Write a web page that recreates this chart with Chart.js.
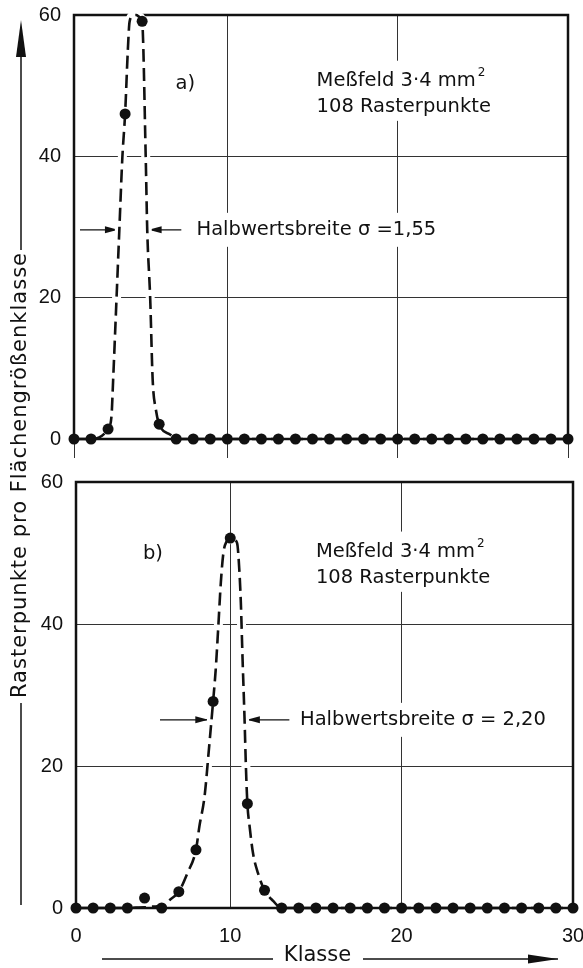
<!DOCTYPE html>
<html><head><meta charset="utf-8">
<script src="https://cdn.jsdelivr.net/npm/chart.js@4.4.1/dist/chart.umd.min.js"></script>
<style>
html,body{margin:0;padding:0;background:#fff;}
#wrap{position:relative;width:583px;height:968px;background:#fff;}
canvas{position:absolute;left:0;top:0;}
</style></head><body>
<div id="wrap"><canvas id="ca" width="583" height="968"></canvas><canvas id="cb" width="583" height="968"></canvas></div>
<script>
// ---- data ----
const classes = [1,2,3,4,5,6,7,8,9,10,11,12,13,14,15,16,17,18,19,20,21,22,23,24,25,26,27,28,29,30];
const pointsA = [0,0,1.4,46,59.1,2.1,0,0,0,0,0,0,0,0,0,0,0,0,0,0,0,0,0,0,0,0,0,0,0,0];
const pointsB = [0,0,0,0,1.4,0,2.3,8.2,29.1,52.1,14.7,2.5,0,0,0,0,0,0,0,0,0,0,0,0,0,0,0,0,0,0];
const curveAx = [1,2,3,3.2,3.3,3.5,3.66,3.84,4,4.16,4.26,4.45,4.65,4.85,5,5.21,5.3,5.47,5.62,5.81,6,6.66,7,30];
const curveAy = [0,0,1.4,3.2,8.5,20.1,29.5,39.9,46,55,59,59.9,60,59.7,59.1,39.9,29.5,20.1,8.3,4.1,2.1,0.6,0,0];
const curveBx = [1,4,4.5,5,5.5,6,6.5,7,7.5,8,8.2,8.5,8.75,9,9.15,9.3,9.45,9.6,9.8,10,10.2,10.4,10.53,10.62,10.72,10.83,10.92,11,11.13,11.33,11.62,12,12.5,13,30];
const curveBy = [0,0,0.05,0.1,0.2,0.35,1.2,2.3,4.9,8.2,11.5,15.7,22.2,29.1,33.5,39.5,45.8,50,51.7,52.1,51.9,51.4,47.6,42.9,35,27,19.5,14.7,11.5,7.7,4.9,2.5,1.0,0,0];
const yTicks = [0,20,40,60];
const xTickValues = [1,10,20,30];
const xTickLabels = ['0','10','20','30'];
const yTitle = 'Rasterpunkte pro Flächengrößenklasse';
const xTitle = 'Klasse';
const textA = {panel:'a)', field:'Meßfeld 3·4 mm', sup:'2', pts:'108 Rasterpunkte', fwhm:'Halbwertsbreite σ =1,55'};
const textB = {panel:'b)', field:'Meßfeld 3·4 mm', sup:'2', pts:'108 Rasterpunkte', fwhm:'Halbwertsbreite σ = 2,20'};

// ---- drawing helpers ----
const INK = '#111';
const TXT = '19.5px "DejaVu Sans"';
function hArrow(ctx, x1, y, x2, len, hw) {
  ctx.beginPath(); ctx.moveTo(x1, y); ctx.lineTo(x2, y); ctx.stroke();
  const d = Math.sign(x2 - x1);
  ctx.beginPath(); ctx.moveTo(x2, y); ctx.lineTo(x2 - d*len, y - hw); ctx.lineTo(x2 - d*len, y + hw); ctx.closePath(); ctx.fill();
}
function annotPlugin(id, t, pos) {
  return {
    id: id,
    beforeDatasetsDraw(chart) {
      const {ctx, chartArea: a, scales: {x, y}} = chart;
      ctx.save();
      ctx.font = TXT; ctx.textBaseline = 'middle'; ctx.textAlign = 'left';
      const fx = x.getPixelForValue(pos.fieldX);
      const fy1 = y.getPixelForValue(pos.fieldY);
      const fy2 = y.getPixelForValue(pos.ptsY);
      const w1 = ctx.measureText(t.field).width;
      const w2 = ctx.measureText(t.pts).width;
      const bw = Math.max(w1 + 10, w2);
      ctx.fillStyle = '#fff';
      ctx.fillRect(fx - 8, fy1 - 20, bw + 16, fy2 - fy1 + 34);
      ctx.fillStyle = INK;
      ctx.fillText(t.field, fx, fy1);
      ctx.font = '12px "DejaVu Sans"';
      ctx.fillText(t.sup, fx + w1 + 2, fy1 - 8);
      ctx.font = TXT;
      ctx.fillText(t.pts, fx, fy2);
      ctx.textAlign = 'center';
      ctx.fillText(t.panel, x.getPixelForValue(pos.panelX), y.getPixelForValue(pos.panelY));
      ctx.textAlign = 'left';
      const hy = y.getPixelForValue(pos.halfY);
      const hx = x.getPixelForValue(pos.textX);
      const hw = ctx.measureText(t.fwhm).width;
      ctx.fillStyle = '#fff';
      ctx.fillRect(hx - 8, hy - 17, hw + 16, 34);
      ctx.fillStyle = INK;
      ctx.fillText(t.fwhm, hx, hy);
      ctx.strokeStyle = INK; ctx.lineWidth = 1.3;
      hArrow(ctx, x.getPixelForValue(pos.lTail), hy, x.getPixelForValue(pos.lTip), 13, 3.5);
      hArrow(ctx, x.getPixelForValue(pos.rTail), hy, x.getPixelForValue(pos.rTip), 13, 3.5);
      ctx.lineWidth = 2.5; ctx.strokeStyle = INK;
      ctx.strokeRect(a.left, a.top, a.right - a.left, a.bottom - a.top);
      ctx.restore();
    }
  };
}
const yTitlePlugin = {
  id: 'ytitle',
  afterDraw(chart) {
    const ctx = chart.ctx;
    ctx.save();
    ctx.fillStyle = INK;
    ctx.translate(21, 475); ctx.rotate(-Math.PI/2);
    ctx.font = '21px "DejaVu Sans"';
    ctx.letterSpacing = '1px';
    ctx.textAlign = 'center'; ctx.textBaseline = 'middle';
    ctx.fillText(yTitle, 0, 0);
    ctx.restore();
    ctx.save();
    ctx.fillStyle = INK; ctx.strokeStyle = INK; ctx.lineWidth = 1.5;
    ctx.beginPath(); ctx.moveTo(21, 250); ctx.lineTo(21, 50); ctx.stroke();
    ctx.beginPath(); ctx.moveTo(21, 20); ctx.lineTo(16, 57); ctx.lineTo(26, 57); ctx.closePath(); ctx.fill();
    ctx.beginPath(); ctx.moveTo(21, 703); ctx.lineTo(21, 905); ctx.stroke();
    ctx.restore();
  }
};
const xTitlePlugin = {
  id: 'xtitle',
  afterDraw(chart) {
    const ctx = chart.ctx;
    ctx.save();
    ctx.fillStyle = INK; ctx.strokeStyle = INK; ctx.lineWidth = 1.5;
    ctx.font = '21px "DejaVu Sans"';
    ctx.textAlign = 'center'; ctx.textBaseline = 'middle';
    ctx.fillText(xTitle, 317.5, 956);
    ctx.beginPath(); ctx.moveTo(102, 959); ctx.lineTo(273, 959); ctx.stroke();
    hArrow(ctx, 363, 959, 558, 30, 4.5);
    ctx.restore();
  }
};

function makeChart(canvasId, pts, cx, cy, area, opts) {
  const curve = cx.map((v, i) => ({x: v, y: cy[i]}));
  const halo = curve.filter(p => p.y >= 3);
  return new Chart(document.getElementById(canvasId), {
    type: 'scatter',
    data: {
      datasets: [
        {data: classes.map((c, i) => ({x: c, y: pts[i]})), pointRadius: 5.5, pointHoverRadius: 5.5,
         pointBackgroundColor: INK, pointBorderWidth: 0, showLine: false, clip: false, order: 0},
        {data: curve, showLine: true, borderColor: INK, borderWidth: 2.6, borderDash: [13, 6],
         pointRadius: 0, cubicInterpolationMode: 'monotone', clip: false, order: 1},
        {data: halo, showLine: true, borderColor: '#fff', borderWidth: 9,
         pointRadius: 0, cubicInterpolationMode: 'monotone', clip: false, order: 2}
      ]
    },
    options: {
      responsive: false, animation: false, devicePixelRatio: 1,
      events: [],
      layout: {padding: {left: 0, top: area.top, right: 583 - area.right, bottom: 968 - area.bottom - 40}},
      plugins: {legend: {display: false}, tooltip: {enabled: false}},
      scales: {
        x: {
          type: 'linear', min: 1, max: 30,
          afterBuildTicks: s => { s.ticks = xTickValues.map(v => ({value: v})); },
          afterFit: s => { s.height = 40; s.paddingLeft = 0; s.paddingRight = 0; },
          border: {display: false},
          grid: {color: '#333', lineWidth: 1, drawTicks: opts.xTicks, tickLength: 19},
          ticks: {
            display: true, padding: 16, maxRotation: 0, autoSkip: false,
            color: INK, font: {family: '"Liberation Sans"', size: 20},
            callback: (v, i) => opts.xLabels ? xTickLabels[i] : ''
          }
        },
        y: {
          type: 'linear', min: 0, max: 60,
          afterBuildTicks: s => { s.ticks = yTicks.map(v => ({value: v})); },
          afterFit: s => { s.width = area.left; s.paddingTop = 0; s.paddingBottom = 0; },
          border: {display: false},
          grid: {color: '#333', lineWidth: 1, drawTicks: false},
          ticks: {padding: 13, color: INK, font: {family: '"Liberation Sans"', size: 20}}
        }
      }
    },
    plugins: opts.plugins
  });
}

makeChart('ca', pointsA, curveAx, curveAy, {left: 74, top: 15, right: 568, bottom: 439},
  {xTicks: true, xLabels: false, plugins: [
    annotPlugin('annA', textA, {fieldX: 15.24, fieldY: 50.7, ptsY: 47.0, panelX: 7.53, panelY: 50.3,
      halfY: 29.6, textX: 8.19, lTail: 1.35, lTip: 3.58, rTail: 7.3, rTip: 5.38}),
    yTitlePlugin]});
makeChart('cb', pointsB, curveBx, curveBy, {left: 76, top: 482, right: 573, bottom: 908},
  {xTicks: false, xLabels: true, plugins: [
    annotPlugin('annB', textB, {fieldX: 15.0, fieldY: 50.2, ptsY: 46.5, panelX: 5.49, panelY: 49.9,
      halfY: 26.5, textX: 14.07, lTail: 5.9, lTip: 8.72, rTail: 13.45, rTip: 10.97}),
    xTitlePlugin]});
</script>
</body></html>
